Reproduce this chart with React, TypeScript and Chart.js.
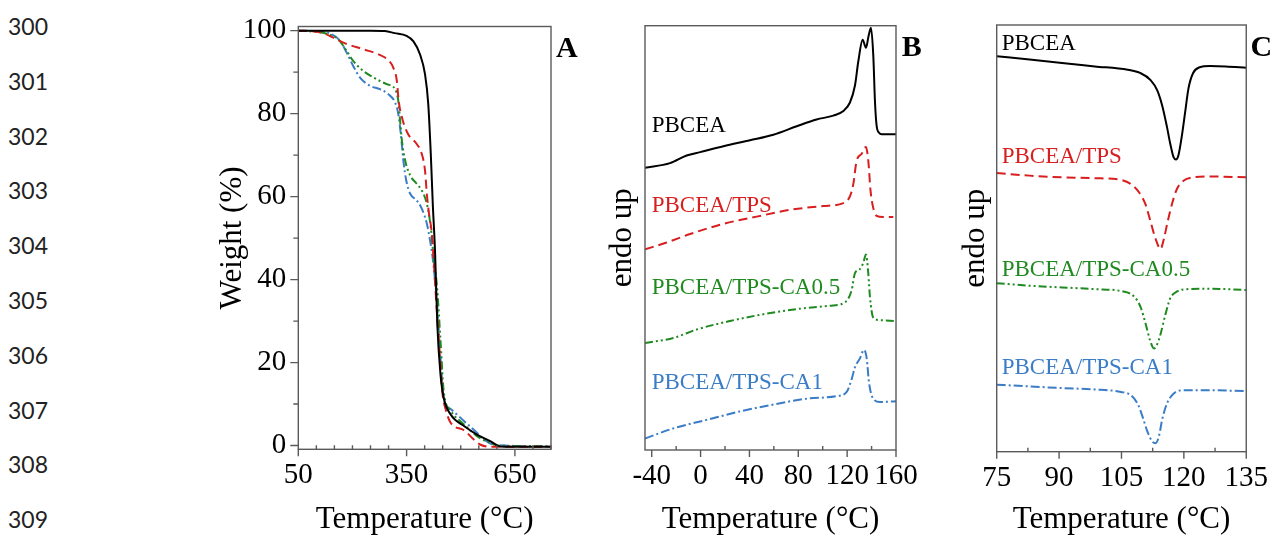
import React, { useEffect, useRef } from 'react';
import { Chart, registerables } from 'chart.js';

Chart.register(...registerables);

const SERIF = '"Liberation Serif", "Times New Roman", serif';
const AXIS_COLOR = '#5a5a5a';

const SERIES_NAMES = ['PBCEA', 'PBCEA/TPS', 'PBCEA/TPS-CA0.5', 'PBCEA/TPS-CA1'];
const SERIES_COLORS = ['#000000', '#d81e1e', '#1f8a1f', '#3a7cc6'];
const SERIES_DASHES = [[], [9, 5], [8, 3, 2, 3, 2, 3], [9, 3, 2, 3]];

// ---------- Panel A : TGA ----------
const tgaBlackT = [50, 150, 250, 290, 317, 350, 369, 387, 401, 410, 417, 422.5, 429, 435, 444, 453, 472, 509, 546, 583, 602, 620, 750];
const tgaBlackW = [100, 100, 100, 99.9, 99.4, 98.75, 97.4, 94.3, 89.5, 82.3, 70.3, 58.3, 46.3, 29.3, 17, 11.4, 7.5, 4.7, 2.6, 1.0, 0, -0.3, -0.3];
const tgaRedT = [50, 92, 119, 147, 175, 230, 272, 299, 313, 323, 328, 337, 354, 378, 392, 401, 406, 412, 420, 424, 430, 439.5, 449, 458, 472, 509, 537, 555, 580, 750];
const tgaRedW = [100, 99.8, 99.4, 98.3, 97.1, 95.5, 94.3, 92.9, 91.1, 87.9, 83.1, 79.1, 75.1, 72.7, 70.3, 66.3, 60.7, 55.9, 51.1, 46.3, 37.5, 25.2, 12.9, 8.8, 5.5, 3.7, 1.4, 0.2, -0.3, -0.3];
const tgaGreenT = [50, 110, 138, 161, 184, 202, 230, 267, 295, 318, 327, 332, 337, 346, 360, 378, 392, 406, 417, 424, 435, 444, 453, 472, 509, 546, 583, 602, 750];
const tgaGreenW = [100, 99.6, 99.0, 97.9, 95.1, 92.7, 90.3, 88.3, 87.1, 85.9, 83.1, 78.3, 73.5, 68.7, 65.1, 63.1, 61.5, 58.3, 52.6, 46.3, 37.5, 25.2, 12.9, 8.4, 5.1, 2.2, 0.6, 0, -0.2];
const tgaBlueT = [50, 92, 138, 166, 184, 202, 221, 249, 276, 299, 318, 327, 334, 341, 349, 360, 378, 392, 406, 415, 422, 435, 444, 453, 472, 509, 546, 565, 593, 750];
const tgaBlueW = [100, 99.9, 99.3, 97.5, 94.7, 91.5, 88.7, 86.7, 85.9, 84.7, 82.7, 79.9, 75.1, 68.7, 63.9, 60.7, 59.1, 57.1, 53.5, 49.4, 45.4, 33.4, 21, 11.2, 8.8, 5.9, 3.0, 1.4, 0.2, -0.2];
const tgaXTicks = [50, 350, 650];
const tgaXMinor = [100, 150, 200, 250, 300, 400, 450, 500, 550, 600, 700, 750];
const tgaYTicks = [0, 20, 40, 60, 80, 100];
const tgaYMinor = [10, 30, 50, 70, 90];

// ---------- Panel B : DSC heating ----------
const dscHBlackT = [-45.5, -25, -11.4, -0.4, 18.7, 40.5, 59.6, 78.7, 95, 108.7, 116.9, 122.3, 126.4, 129.1, 132.7, 135.4, 137.5, 139.5, 141.4, 142.8, 144.1, 146.3, 148.2, 160];
const dscHBlackV = [66.5, 67.6, 69.4, 70.2, 71.6, 73.0, 74.3, 76.3, 77.9, 78.8, 79.9, 81.9, 85.9, 91.5, 96.7, 94.8, 97.5, 99.5, 93, 82, 76.5, 74.7, 74.4, 74.4];
const dscHRedT = [-45.5, -27.7, -8.6, 18.7, 45.9, 73.2, 100.5, 116.9, 122.3, 125, 127.8, 131.9, 133.8, 135.4, 137.3, 139.2, 141.4, 144.1, 149.6, 157.8];
const dscHRedV = [47.3, 48.9, 50.9, 53.3, 55, 56.6, 57.5, 58.2, 59.8, 62.6, 68.2, 69.8, 71, 71.4, 68.2, 61, 57, 55.2, 54.9, 54.9];
const dscHGreenT = [-45.5, -22.3, -3.2, 24.1, 51.4, 78.7, 106, 118.2, 123.7, 126.4, 130, 133.2, 135.4, 137.3, 138.7, 141.4, 146.9, 159.1];
const dscHGreenV = [25.2, 26.4, 28.4, 30.4, 32, 33.2, 34, 34.8, 37.7, 41.7, 42.5, 44.1, 46.1, 41.7, 36, 31.2, 30.6, 30.4];
const dscHBlueT = [-45.5, -22.3, 5, 32.3, 59.6, 86.9, 111.4, 119.6, 123.7, 126.4, 130.5, 133.8, 136, 137.9, 140.9, 146.9, 160];
const dscHBlueV = [2.7, 5.1, 7.1, 9.1, 10.7, 12.1, 12.7, 13.7, 16.7, 19.5, 21.6, 23.6, 21.6, 15.9, 12.3, 11.3, 11.5];
const dscHXTicks = [-40, 0, 40, 80, 120, 160];
const dscHXMinor = [-20, 20, 60, 100, 140];
const dscHLabelX = [-40, -40, -40, -40];
const dscHLabelY = [76.3, 57.4, 38.1, 15.9];

// ---------- Panel C : DSC cooling ----------
const dscCBlackT = [75, 82.9, 90.7, 98.6, 106.5, 109.6, 112, 113.6, 114.8, 115.9, 116.7, 117.5, 118.1, 118.7, 119.5, 120.3, 121.1, 122.2, 123.8, 126.2, 130.1, 135];
const dscCBlackV = [92.7, 91.9, 91.1, 90.3, 89.5, 88.7, 87.1, 84.7, 81.1, 76.3, 72.3, 69.1, 68.5, 69.5, 73.9, 79.5, 85.1, 88.7, 90.1, 90.4, 90.3, 90.0];
const dscCRedT = [75, 82.9, 90.7, 98.6, 104.9, 107.3, 109.3, 110.8, 112, 113.2, 114.4, 115.2, 116.1, 117.1, 118.3, 119.9, 122.2, 126.2, 135];
const dscCRedV = [65.3, 64.7, 64.3, 64.1, 63.7, 62.7, 60.7, 57.9, 53.9, 49.9, 47.5, 49.9, 53.9, 57.9, 61.5, 63.5, 64.3, 64.5, 64.3];
const dscCGreenT = [75, 82.9, 90.7, 98.6, 105.7, 108.1, 109.6, 110.8, 111.9, 112.8, 113.6, 114.4, 115.6, 116.7, 118.3, 120.7, 126.2, 135];
const dscCGreenV = [39.5, 38.9, 38.5, 38.1, 37.5, 36.3, 33.9, 30, 26, 24.2, 25.2, 27.6, 32.3, 35.9, 37.5, 38.1, 38.2, 37.9];
const dscCBlueT = [75, 82.9, 90.7, 98.6, 104.9, 107.3, 108.9, 110, 111.2, 112.4, 113.2, 114, 114.8, 115.9, 117.5, 119.9, 126.2, 135];
const dscCBlueV = [15.7, 15.3, 14.9, 14.6, 14.0, 13.2, 11.2, 8.4, 4.8, 2.4, 2.0, 3.6, 7.6, 11.2, 13.6, 14.4, 14.4, 14.2];
const dscCXTicks = [75, 90, 105, 120, 135];
const dscCXMinor = [82.5, 97.5, 112.5, 127.5];
const dscCLabelX = [76.2, 76.2, 76.2, 76.2];
const dscCLabelY = [95.5, 69.1, 42.6, 19.6];

const LINE_NUMBERS = ['300', '301', '302', '303', '304', '305', '306', '307', '308', '309'];

type Series = { x: number[]; y: number[] };
type PanelSpec = {
  left: number; width: number;
  plotLeft: number; plotRight: number; plotTop: number; plotBottom: number;
  xMin: number; xMax: number; yMin: number; yMax: number;
  xTicks: number[]; xMinor: number[];
  yTicks: number[] | null; yMinor: number[];
  yTitle: string; yTitlePad: number;
  letter: string; letterDx: number;
  series: Series[];
  labelX: number[] | null; labelY: number[] | null;
};

const PANELS: PanelSpec[] = [
  {
    left: 200, width: 400, plotLeft: 298.3, plotRight: 551, plotTop: 25.7, plotBottom: 449.3,
    xMin: 50, xMax: 750, yMin: -0.9, yMax: 101,
    xTicks: tgaXTicks, xMinor: tgaXMinor, yTicks: tgaYTicks, yMinor: tgaYMinor,
    yTitle: 'Weight (%)', yTitlePad: 17, letter: 'A', letterDx: 5,
    series: [
      { x: tgaBlackT, y: tgaBlackW }, { x: tgaRedT, y: tgaRedW },
      { x: tgaGreenT, y: tgaGreenW }, { x: tgaBlueT, y: tgaBlueW },
    ],
    labelX: null, labelY: null,
  },
  {
    left: 600, width: 330, plotLeft: 645, plotRight: 896, plotTop: 25.7, plotBottom: 450,
    xMin: -45.5, xMax: 160, yMin: 0, yMax: 100,
    xTicks: dscHXTicks, xMinor: dscHXMinor, yTicks: null, yMinor: [],
    yTitle: 'endo up', yTitlePad: 7, letter: 'B', letterDx: 5.7,
    series: [
      { x: dscHBlackT, y: dscHBlackV }, { x: dscHRedT, y: dscHRedV },
      { x: dscHGreenT, y: dscHGreenV }, { x: dscHBlueT, y: dscHBlueV },
    ],
    labelX: dscHLabelX, labelY: dscHLabelY,
  },
  {
    left: 930, width: 350, plotLeft: 996.7, plotRight: 1250.7, plotTop: 25, plotBottom: 451.7,
    xMin: 75, xMax: 135, yMin: 0, yMax: 100,
    xTicks: dscCXTicks, xMinor: dscCXMinor, yTicks: null, yMinor: [],
    yTitle: 'endo up', yTitlePad: 30, letter: 'C', letterDx: 4.3,
    series: [
      { x: dscCBlackT, y: dscCBlackV }, { x: dscCRedT, y: dscCRedV },
      { x: dscCGreenT, y: dscCGreenV }, { x: dscCBlueT, y: dscCBlueV },
    ],
    labelX: dscCLabelX, labelY: dscCLabelY,
  },
];

const H = 535;

function Panel({ spec }: { spec: PanelSpec }) {
  const ref = useRef<HTMLCanvasElement>(null);
  useEffect(() => {
    const canvas = ref.current;
    if (!canvas) return;
    const decor = {
      id: 'decor',
      afterDraw(chart: any) {
        const { ctx, chartArea } = chart;
        const { left, right, top, bottom } = chartArea;
        const xs = chart.scales.x;
        const ys = chart.scales.y;
        ctx.save();
        ctx.strokeStyle = AXIS_COLOR;
        ctx.lineWidth = 1.4;
        ctx.strokeRect(left, top, right - left, bottom - top);
        ctx.beginPath();
        for (const v of spec.xTicks) {
          const p = xs.getPixelForValue(v);
          ctx.moveTo(p, bottom);
          ctx.lineTo(p, bottom + 7);
        }
        for (const v of spec.xMinor) {
          const p = xs.getPixelForValue(v);
          ctx.moveTo(p, bottom);
          ctx.lineTo(p, bottom - 4);
        }
        if (spec.yTicks) {
          for (const v of spec.yTicks) {
            const p = ys.getPixelForValue(v);
            ctx.moveTo(left, p);
            ctx.lineTo(left - 8, p);
          }
        }
        for (const v of spec.yMinor) {
          const p = ys.getPixelForValue(v);
          ctx.moveTo(left, p);
          ctx.lineTo(left - 5, p);
        }
        ctx.stroke();
        ctx.fillStyle = '#000';
        ctx.font = `bold 30px ${SERIF}`;
        ctx.textAlign = 'left';
        ctx.textBaseline = 'middle';
        ctx.fillText(spec.letter, right + spec.letterDx, top + 23);
        if (spec.labelX && spec.labelY) {
          ctx.font = `23px ${SERIF}`;
          for (let i = 0; i < SERIES_NAMES.length; i++) {
            ctx.fillStyle = SERIES_COLORS[i];
            ctx.fillText(SERIES_NAMES[i], xs.getPixelForValue(spec.labelX[i]), ys.getPixelForValue(spec.labelY[i]));
          }
        }
        ctx.restore();
      },
    };
    const datasets = spec.series.map((s, i) => ({
      label: SERIES_NAMES[i],
      data: s.x.map((xv, j) => ({ x: xv, y: s.y[j] })),
      borderColor: SERIES_COLORS[i],
      backgroundColor: SERIES_COLORS[i],
      borderWidth: 2,
      borderDash: SERIES_DASHES[i],
      pointRadius: 0,
      fill: false,
      cubicInterpolationMode: 'monotone' as const,
    }));
    const chart = new Chart(canvas, {
      type: 'line',
      data: { datasets },
      options: {
        animation: false,
        responsive: false,
        devicePixelRatio: 1,
        events: [],
        layout: {
          padding: {
            left: 0,
            top: spec.plotTop,
            right: spec.left + spec.width - spec.plotRight,
            bottom: 0,
          },
        },
        plugins: { legend: { display: false }, tooltip: { enabled: false } },
        scales: {
          x: {
            type: 'linear',
            min: spec.xMin,
            max: spec.xMax,
            afterBuildTicks: (s: any) => { s.ticks = spec.xTicks.map((v) => ({ value: v })); },
            afterFit: (s: any) => { s.height = H - spec.plotBottom; },
            grid: { display: false, drawTicks: false },
            border: { display: false },
            ticks: {
              autoSkip: false, maxRotation: 0, minRotation: 0, padding: 12, color: '#000',
              font: { family: SERIF, size: 29, lineHeight: 1 },
              callback: (v: any) => String(v),
            },
            title: {
              display: true, text: 'Temperature (°C)', color: '#000',
              font: { family: SERIF, size: 31, lineHeight: 1 },
              padding: { top: 0, bottom: 0 },
            },
          },
          y: {
            type: 'linear',
            min: spec.yMin,
            max: spec.yMax,
            afterBuildTicks: (s: any) => { s.ticks = (spec.yTicks || []).map((v) => ({ value: v })); },
            afterFit: (s: any) => { s.width = spec.plotLeft - spec.left; },
            grid: { display: false, drawTicks: false },
            border: { display: false },
            ticks: {
              display: !!spec.yTicks, padding: 12, color: '#000',
              font: { family: SERIF, size: 29, lineHeight: 1 },
              callback: (v: any) => String(v),
            },
            title: {
              display: true, text: spec.yTitle, color: '#000',
              font: { family: SERIF, size: 31, lineHeight: 1 },
              padding: { top: spec.yTitlePad, bottom: 0 },
            },
          },
        },
      },
      plugins: [decor],
    } as any);
    return () => chart.destroy();
  }, [spec]);
  return (
    <canvas
      ref={ref}
      width={spec.width}
      height={H}
      style={{ position: 'absolute', left: spec.left, top: 0, width: spec.width, height: H }}
    />
  );
}

export default function App() {
  return (
    <div style={{ position: 'absolute', left: 0, top: 0, width: 1280, height: H, background: '#fff', overflow: 'hidden' }}>
      {LINE_NUMBERS.map((n, i) => (
        <div
          key={n}
          style={{
            position: 'absolute', left: 8, top: 26 + i * 54.8 - 15, height: 30, lineHeight: '30px',
            fontFamily: 'Lato, "Open Sans", sans-serif', fontSize: 23, color: '#222',
          }}
        >
          {n}
        </div>
      ))}
      {PANELS.map((p) => (
        <Panel key={p.letter} spec={p} />
      ))}
    </div>
  );
}
